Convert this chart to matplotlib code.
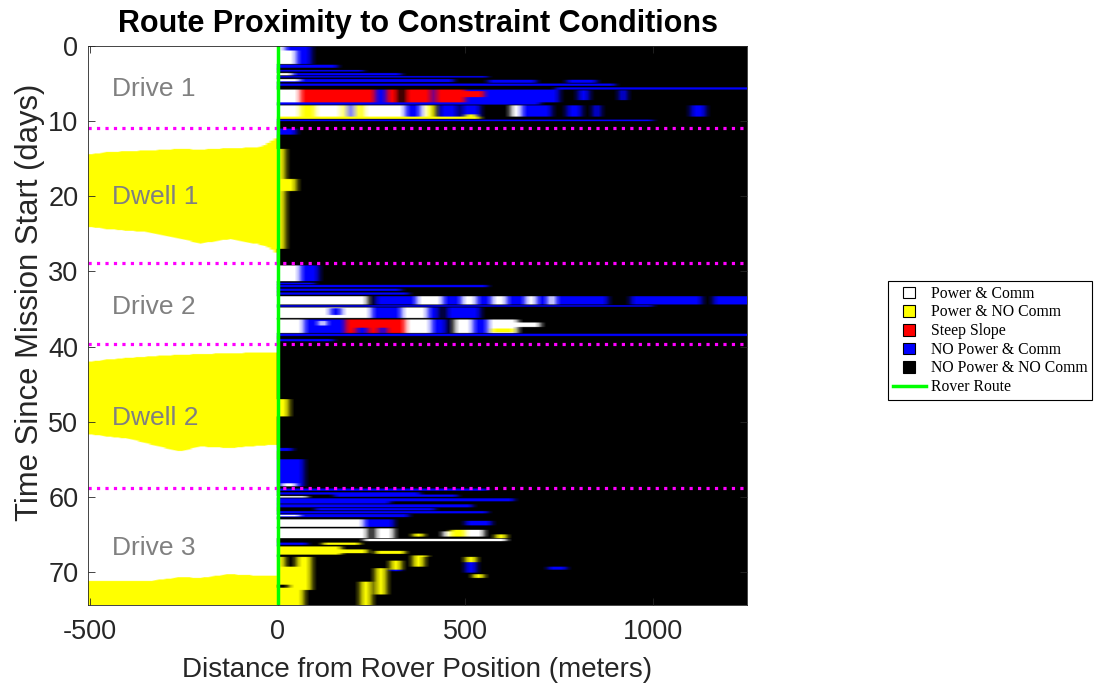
import numpy as np
import matplotlib
matplotlib.use("Agg")
import matplotlib.pyplot as plt
import matplotlib.patches as mpatches
from matplotlib.lines import Line2D
from matplotlib.legend_handler import HandlerPatch

plt.rcParams['font.family'] = ['Liberation Sans', 'DejaVu Sans']
plt.rcParams['axes.unicode_minus'] = False

# condition categories and their colours
W, Y, R, B, K = 0, 1, 2, 3, 4
condition_names = ["Power & Comm", "Power & NO Comm", "Steep Slope",
                   "NO Power & Comm", "NO Power & NO Comm"]
condition_colors = [(1.0, 1.0, 1.0), (1.0, 1.0, 0.0), (1.0, 0.0, 0.0),
                    (0.0, 0.0, 1.0), (0.0, 0.0, 0.0)]

# phase boundaries (days) and labels
phase_bounds = [10.9, 28.9, 39.7, 58.8]
phase_labels = ["Drive 1", "Dwell 1", "Drive 2", "Dwell 2", "Drive 3"]
phase_label_days = [5.7, 20.1, 34.7, 49.5, 66.8]

# behind the rover: yellow (power, no comm) extent during dwells, per distance
behind_x = [-510, -500, -447, -394, -340, -261, -207, -128, -48, -21, 0]
dwell1_top = [14.4, 14.4, 14.1, 14.0, 13.9, 13.7, 13.8, 13.6, 13.5, 12.8, 12.1]
dwell1_bot = [24.1, 24.1, 24.4, 24.6, 24.8, 25.6, 26.3, 25.7, 26.4, 26.9, 27.7]
dwell2_top = [42.0, 42.0, 41.7, 41.5, 41.3, 41.1, 41.0, 40.9, 40.8, 40.8, 40.8]
dwell2_bot = [51.7, 51.7, 52.0, 52.3, 53.0, 54.0, 53.3, 53.5, 53.2, 53.1, 53.1]
drive3_top = [71.2, 71.2, 71.2, 71.2, 71.2, 70.7, 70.8, 70.3, 70.5, 70.5, 70.5]

# ahead of the rover: (day start, day end, dist start, dist end, condition)
drive1_cells = [
    (0.0, 2.4, 0, 50, W), (0.0, 2.4, 50, 90, B), (0.0, 0.6, 20, 60, B),
    (2.5, 2.9, 0, 165, B), (3.2, 3.4, 0, 230, B),
    (3.6, 3.9, 0, 330, B), (3.6, 3.9, 0, 40, W),
    (4.0, 4.2, 0, 560, B), (4.4, 4.8, 0, 470, B), (4.4, 4.7, 0, 60, W),
    (4.5, 4.9, 560, 690, B), (4.5, 4.9, 770, 850, B),
    (5.0, 5.3, 0, 900, B), (5.5, 5.8, 740, 1250, B),
    (5.8, 7.5, 0, 65, W), (5.8, 7.5, 65, 505, R),
    (5.8, 7.5, 260, 290, B), (5.8, 7.5, 320, 345, K), (5.8, 7.5, 410, 425, B),
    (5.8, 7.5, 505, 755, B), (6.0, 6.8, 505, 550, R),
    (5.9, 7.2, 800, 830, B), (5.9, 7.2, 910, 930, B),
    (7.5, 7.8, 0, 700, B),
    (7.9, 9.4, 0, 345, W), (7.9, 9.4, 65, 105, Y), (7.9, 9.4, 170, 185, Y),
    (7.9, 9.4, 190, 205, B), (7.9, 9.4, 210, 235, Y),
    (7.9, 9.4, 345, 385, B), (7.9, 9.4, 385, 400, W), (7.9, 9.4, 400, 425, Y),
    (7.9, 9.4, 435, 480, B), (7.9, 9.4, 490, 545, B), (7.9, 9.4, 620, 655, W),
    (7.9, 9.4, 655, 730, B), (7.9, 9.4, 775, 810, B), (7.9, 9.4, 840, 865, B),
    (7.9, 9.4, 1105, 1140, B),
    (9.4, 9.7, 0, 545, Y), (9.1, 9.5, 505, 530, Y),
    (9.8, 10.0, 0, 1000, B), (11.0, 11.8, 0, 50, B),
]
dwell_cells = [
    (13.7, 27.0, 0, 25, Y), (17.7, 19.3, 25, 50, Y), (47.0, 49.3, 0, 30, Y),
]
drive2_cells = [
    (29.2, 31.3, 0, 65, W), (29.2, 31.3, 65, 110, B),
    (31.5, 31.7, 0, 100, B), (31.8, 32.1, 0, 565, B),
    (32.3, 32.6, 0, 330, B), (32.8, 33.1, 0, 350, B),
    (33.3, 34.4, 0, 1250, B), (33.3, 34.4, 0, 240, W), (33.3, 34.4, 240, 265, K),
    (33.3, 34.4, 370, 440, W), (33.3, 34.4, 490, 530, W), (33.3, 34.4, 570, 615, W),
    (33.3, 34.4, 660, 690, W), (33.3, 34.4, 720, 745, W),
    (33.3, 34.4, 880, 945, K), (33.3, 34.4, 1130, 1165, K),
    (34.5, 34.7, 0, 1000, B),
    (34.8, 36.2, 0, 250, W), (34.9, 35.8, 145, 170, B), (34.8, 36.2, 250, 330, B),
    (34.8, 36.2, 330, 400, W), (34.8, 36.2, 400, 430, B), (34.8, 36.2, 450, 545, B),
    (36.4, 38.2, 0, 70, W), (36.4, 38.2, 70, 185, B), (36.6, 37.2, 110, 130, W),
    (36.4, 38.2, 185, 345, R), (37.5, 38.2, 210, 240, B), (37.5, 38.2, 270, 290, B),
    (36.4, 38.2, 345, 410, W), (36.4, 38.2, 410, 450, B),
    (36.4, 38.2, 470, 525, W), (36.4, 38.2, 525, 560, B), (36.4, 38.2, 560, 640, W),
    (37.6, 38.1, 570, 630, Y), (36.8, 37.4, 640, 700, W),
    (38.3, 38.6, 0, 1250, B), (39.0, 39.3, 0, 150, B),
]
drive3_cells = [
    (53.5, 53.9, 0, 40, B), (55.0, 58.6, 0, 70, B), (58.2, 58.6, 10, 50, W),
    (58.9, 59.2, 0, 560, B), (59.4, 59.7, 0, 380, B), (59.7, 60.0, 150, 480, B),
    (59.9, 60.1, 0, 80, W), (60.2, 60.6, 0, 630, B), (60.6, 60.9, 0, 300, B),
    (61.0, 61.4, 0, 520, B), (61.5, 61.8, 100, 420, B), (61.9, 62.2, 0, 560, B),
    (62.3, 62.7, 0, 350, B), (62.4, 62.6, 0, 60, W),
    (63.0, 64.0, 0, 230, W), (63.0, 64.0, 230, 310, B), (63.2, 63.8, 505, 570, B),
    (64.2, 65.5, 0, 240, W), (64.2, 65.5, 260, 310, W), (64.9, 65.3, 365, 390, Y),
    (64.6, 65.3, 440, 465, W), (64.4, 65.3, 465, 505, Y), (64.4, 65.3, 505, 520, W),
    (64.4, 65.3, 525, 555, W), (65.0, 65.5, 580, 610, Y),
    (65.6, 65.9, 230, 610, W),
    (66.1, 66.4, 0, 80, B), (66.1, 66.4, 120, 220, Y),
    (66.6, 67.7, 0, 170, Y), (67.0, 67.5, 170, 240, Y), (67.2, 67.6, 260, 340, Y),
    (67.8, 68.0, 360, 400, Y),
    (68.0, 74.4, 0, 95, Y), (68.0, 69.3, 25, 55, K), (71.7, 72.1, 0, 30, K),
    (72.4, 74.4, 70, 95, K),
    (71.3, 74.4, 220, 255, Y), (69.5, 73.0, 260, 295, Y),
    (68.5, 69.7, 300, 335, Y), (69.7, 69.9, 300, 335, B),
    (68.0, 69.3, 360, 395, Y), (68.0, 68.7, 500, 535, Y), (68.7, 70.1, 500, 535, B),
    (70.3, 70.8, 520, 555, Y), (69.3, 69.7, 725, 770, B),
]

# build the condition grid
dx, dt = 10.0, 0.1
x0, x1, t0, t1 = -510.0, 1250.0, 0.0, 74.4
xc = np.arange(x0 + dx / 2, x1, dx)
tc = np.arange(t0 + dt / 2, t1, dt)
grid = np.full((len(tc), len(xc)), K)
grid[:, xc < 0] = W
for top, bot in [(dwell1_top, dwell1_bot), (dwell2_top, dwell2_bot),
                 (drive3_top, [t1] * len(behind_x))]:
    for j in np.where(xc < 0)[0]:
        lo = np.interp(xc[j], behind_x, top)
        hi = np.interp(xc[j], behind_x, bot)
        grid[(tc >= lo) & (tc < hi), j] = Y
for cells in [drive1_cells, dwell_cells, drive2_cells, drive3_cells]:
    for a, b, d0, d1, c in cells:
        rows = (tc >= a) & (tc < b)
        cols = (xc >= d0) & (xc < d1)
        grid[np.ix_(rows, cols)] = c
rgb = np.array(condition_colors, dtype=float)[grid]

# ahead of the rover the map is resampled along distance, soften it a bit
ahead = xc > 0
pad = np.pad(rgb[:, ahead], ((0, 0), (1, 1), (0, 0)), mode='edge')
rgb[:, ahead] = 0.25 * pad[:, :-2] + 0.5 * pad[:, 1:-1] + 0.25 * pad[:, 2:]

fig = plt.figure(figsize=(10.94, 6.86), dpi=100)
ax = fig.add_axes([88 / 1094, 1 - 605 / 686, 659 / 1094, 559 / 686])
ax.imshow(rgb, extent=[x0, x1, t1, t0], aspect='auto', interpolation='bilinear')

for d in phase_bounds:
    ax.axhline(d, color=(1, 0, 1), linestyle=':', linewidth=2.3)
ax.axvline(0, color=(0, 1, 0), linewidth=2.5)

for lab, d in zip(phase_labels, phase_label_days):
    ax.text(-440, d, lab, color=(0.5, 0.5, 0.5), fontsize=19, va='center', ha='left')

ax.set_xlim(-505, 1250)
ax.set_ylim(74.4, 0)
ax.set_xticks([-500, 0, 500, 1000])
ax.set_yticks(np.arange(0, 71, 10))
ax.tick_params(direction='in', top=True, right=True, labelsize=19.5,
               colors='#262626', length=5, width=0.6)
ax.tick_params(axis='x', pad=10)
ax.tick_params(axis='y', pad=7)
for s in ax.spines.values():
    s.set_color('#262626')
    s.set_linewidth(0.6)
ax.set_xlabel("Distance from Rover Position (meters)", fontsize=20,
              color='#262626', labelpad=9)
ax.set_ylabel("Time Since Mission Start (days)", fontsize=22.3, color='#262626')
ax.yaxis.set_label_coords(-0.066, 0.542)
ax.set_title("Route Proximity to Constraint Conditions", fontsize=22,
             fontweight='bold', pad=10)


def square_patch(legend, orig_handle, xdescent, ydescent, width, height, fontsize):
    s = height * 1.05
    return mpatches.Rectangle((-xdescent + (width - s) / 2, -ydescent - 0.05 * height), s, s)


handles = [mpatches.Patch(facecolor=c, edgecolor='black', linewidth=0.8)
           for c in condition_colors]
handles.append(Line2D([], [], color=(0, 1, 0), linewidth=2.5))
labels = condition_names + ["Rover Route"]
leg = fig.legend(handles, labels, loc='upper left',
                 bbox_to_anchor=(888 / 1094, 1 - 281 / 686), borderaxespad=0,
                 prop={'family': 'Liberation Serif', 'size': 11.3},
                 handlelength=2.1, handletextpad=0.35, labelspacing=0.17,
                 borderpad=0.3, fancybox=False, framealpha=1, edgecolor='black',
                 handler_map={mpatches.Patch: HandlerPatch(patch_func=square_patch)})
leg.get_frame().set_linewidth(0.8)

fig.savefig("out.png", dpi=100)
